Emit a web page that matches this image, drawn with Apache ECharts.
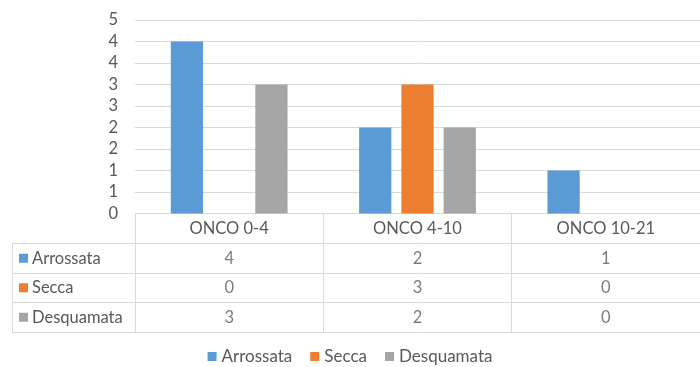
<!DOCTYPE html>
<html>
<head>
<meta charset="utf-8">
<script src="https://cdn.jsdelivr.net/npm/echarts@6/dist/echarts.min.js"></script>
<style>
  html, body { margin: 0; padding: 0; background: #fff; }
  #chart { width: 700px; height: 367px; }
</style>
</head>
<body>
<div id="chart"></div>
<script>
// Categories and series values
const categories = ['ONCO 0-4', 'ONCO 4-10', 'ONCO 10-21'];
const arrossata = [4, 2, 1];
const secca = [0, 3, 0];
const desquamata = [3, 2, 0];
const seriesNames = ['Arrossata', 'Secca', 'Desquamata'];
const seriesColors = ['#5b9bd5', '#ed7d31', '#a5a5a5'];

const seriesValues = [arrossata, secca, desquamata];
const textColor = '#595959';
const lineColor = '#d9d9d9';
const fontFamily = 'Lato, "Liberation Sans", sans-serif';
const fs = 16.5;

// Cells of the data table: [category index, row index, value]
const tableCells = [];
seriesValues.forEach((vals, r) => vals.forEach((v, c) => tableCells.push([c, r, v])));

// Rich styles for the colour keys in the table's first column
const rich = { t: { color: textColor, fontSize: fs, fontFamily: fontFamily, padding: [0, 0, 0, 4] } };
seriesColors.forEach((c, i) => { rich['k' + i] = { width: 9, height: 9, backgroundColor: c }; });

const chart = echarts.init(document.getElementById('chart'));
chart.setOption({
  animation: false,
  textStyle: { fontFamily: fontFamily },
  color: seriesColors,
  legend: {
    data: seriesNames,
    bottom: -3,
    left: 'center',
    icon: 'rect',
    itemWidth: 9,
    itemHeight: 9,
    itemGap: 18,
    textStyle: { color: textColor, fontSize: 17, fontFamily: fontFamily }
  },
  grid: [
    { left: 135, right: 0, top: 20, height: 193.5 },
    { left: 135, right: 0, top: 243.5, height: 88.5 }
  ],
  xAxis: [
    {
      type: 'category',
      gridIndex: 0,
      data: categories,
      axisLine: { lineStyle: { color: lineColor } },
      axisTick: { show: true, length: 30, lineStyle: { color: lineColor } },
      axisLabel: { color: textColor, fontSize: fs, margin: 7 }
    },
    {
      type: 'category',
      gridIndex: 1,
      data: categories,
      axisLine: { show: true, lineStyle: { color: lineColor } },
      axisTick: { show: false },
      axisLabel: { show: false },
      splitLine: { show: true, lineStyle: { color: lineColor } }
    }
  ],
  yAxis: [
    {
      type: 'value',
      gridIndex: 0,
      min: 0,
      max: 4.5,
      interval: 0.5,
      axisLine: { show: false },
      axisTick: { show: false },
      axisLabel: {
        color: textColor,
        fontSize: fs,
        margin: 17,
        formatter: v => String(Math.round(v))
      },
      splitLine: { lineStyle: { color: lineColor } }
    },
    {
      type: 'category',
      gridIndex: 1,
      inverse: true,
      data: seriesNames,
      axisLine: { show: true, lineStyle: { color: lineColor } },
      axisTick: { show: true, length: 123, lineStyle: { color: lineColor } },
      splitLine: { show: true, lineStyle: { color: lineColor } },
      axisLabel: {
        align: 'left',
        margin: 116,
        rich: rich,
        formatter: (v, i) => '{k' + i + '|}{t|' + v + '}'
      }
    },
    {
      // left border of the table's name column
      type: 'value',
      gridIndex: 1,
      position: 'left',
      offset: 123,
      axisLine: { show: true, lineStyle: { color: lineColor } },
      axisTick: { show: false },
      axisLabel: { show: false },
      splitLine: { show: false }
    }
  ],
  series: seriesNames.map((name, i) => ({
    name: name,
    type: 'bar',
    xAxisIndex: 0,
    yAxisIndex: 0,
    barGap: '31%',
    barCategoryGap: '38%',
    data: seriesValues[i],
    itemStyle: { color: seriesColors[i] }
  })).concat([{
    name: 'table',
    type: 'scatter',
    xAxisIndex: 1,
    yAxisIndex: 1,
    symbolSize: 1,
    itemStyle: { color: 'rgba(0,0,0,0)' },
    data: tableCells,
    label: {
      show: true,
      position: 'inside',
      color: textColor,
      fontSize: fs,
      formatter: p => String(p.value[2])
    }
  }])
});
</script>
</body>
</html>
